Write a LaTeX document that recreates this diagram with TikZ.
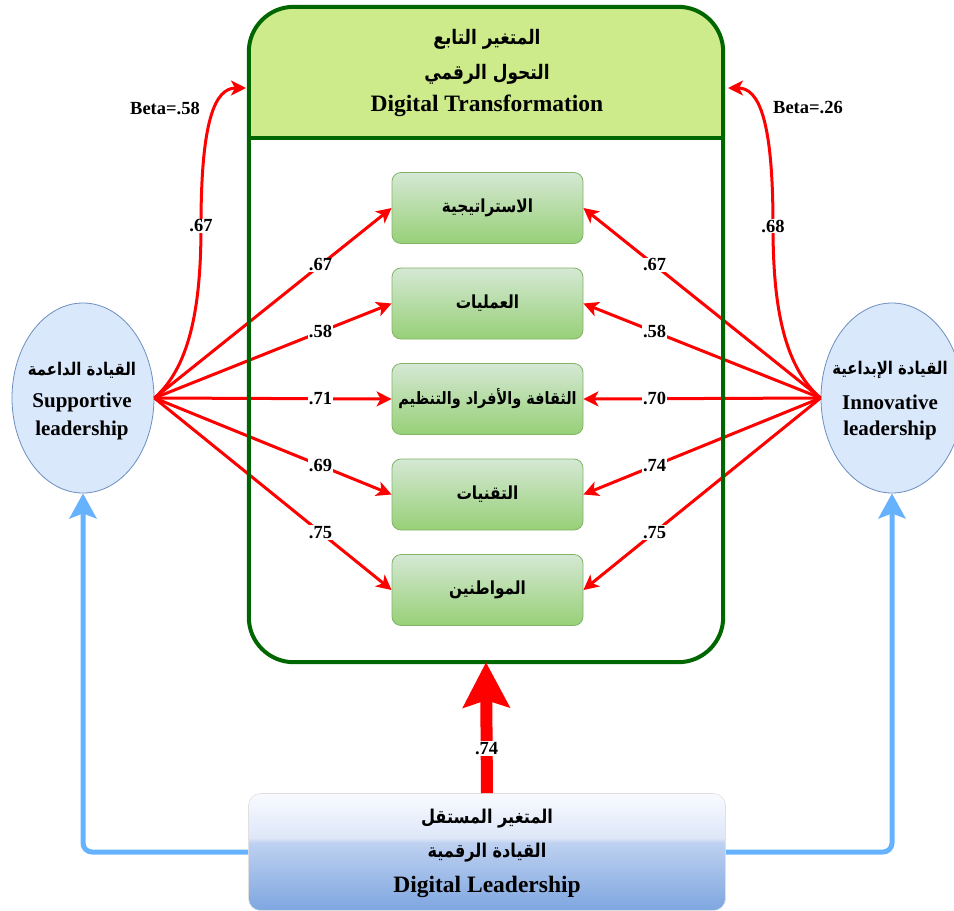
\documentclass[tikz,border=0pt]{standalone}
\usepackage{fontspec}
\setmainfont{Liberation Serif}
\newfontfamily\arabicfont[Script=Arabic,FakeStretch=0.85]{DejaVu Sans}
\TeXXeTstate=1
\usetikzlibrary{arrows.meta,shapes.geometric}
\definecolor{dkgreen}{RGB}{0,102,0}
\definecolor{hdr}{RGB}{205,235,139}
\definecolor{gtop}{RGB}{213,232,212}
\definecolor{gbot}{RGB}{151,208,119}
\definecolor{gbord}{RGB}{130,179,102}
\definecolor{efill}{RGB}{218,232,252}
\definecolor{ebord}{RGB}{108,142,191}
\definecolor{blu}{RGB}{102,178,255}
\definecolor{btop}{RGB}{248,250,255}
\definecolor{bmida}{RGB}{222,231,248}
\definecolor{bmidb}{RGB}{190,209,240}
\definecolor{bbot}{RGB}{126,166,224}
\pgfdeclareverticalshading{glossyblue}{100bp}{color(0bp)=(bbot); color(25bp)=(bbot); color(54bp)=(bmidb); color(56bp)=(bmida); color(75bp)=(btop); color(100bp)=(btop)}
\newcommand{\AR}[1]{{\arabicfont\bfseries\beginR #1\endR}}
\begin{document}
\begin{tikzpicture}[x=1pt,y=-1pt,
  redarr/.style={draw=red, line width=3pt, -{Stealth[length=15pt,width=15pt,inset=4pt]}},
  lbl/.style={fill=white, inner sep=1pt, font=\bfseries\fontsize{18.5}{20}\selectfont},
  ibox/.style={draw=gbord, line width=0.8pt, rounded corners=9pt, top color=gtop, bottom color=gbot, minimum width=191pt, minimum height=71pt, inner sep=0pt, font=\fontsize{18}{21}\selectfont},
  ell/.style={ellipse, draw=ebord, line width=0.8pt, fill=efill, minimum width=142pt, minimum height=190pt, inner sep=0pt},
  arhd/.style={font=\fontsize{20}{24}\selectfont},
  arbt/.style={font=\fontsize{19}{23}\selectfont},
  enbig/.style={font=\bfseries\fontsize{23.5}{26}\selectfont},
  arsm/.style={font=\fontsize{17.5}{21}\selectfont},
  ensm/.style={font=\bfseries\fontsize{21}{24}\selectfont},
  bluarr/.style={draw=blu, line width=5pt, rounded corners=9pt, -{Stealth[length=25pt,width=27pt,inset=5pt]}}
]
\useasboundingbox (0,0) rectangle (954,911);

% container background
\node[fill=white, rounded corners=45pt, minimum width=474pt, minimum height=655pt, inner sep=0pt] (C) at (486,334.5) {};
\begin{scope}
  \clip[rounded corners=45pt] (C.south west) rectangle (C.north east);
  \fill[hdr] (C.north west) rectangle (C.east |- 0,137.5);
\end{scope}

% ellipses
\node[ell] (L) at (83,398) {};
\node[ell] (R) at (892,398) {};

% inner boxes
\node[ibox] (s1) at (487.5,208) {\AR{الاستراتيجية}};
\node[ibox] (s2) at (487.5,303.5) {\AR{العمليات}};
\node[ibox, font=\fontsize{17}{20}\selectfont] (s3) at (487.5,399) {\AR{الثقافة والأفراد والتنظيم}};
\node[ibox] (s4) at (487.5,494.5) {\AR{التقنيات}};
\node[ibox] (s5) at (487.5,590) {\AR{المواطنين}};

% bottom box
\node[shading=glossyblue, draw=black!12, line width=0.6pt, rounded corners=12pt, minimum width=477pt, minimum height=117pt, inner sep=0pt] (B) at (487,852) {};

% red arrows from left
\draw[redarr] (L.east) -- (s1.west) node[lbl, pos=0.7] {.67};
\draw[redarr] (L.east) -- (s2.west) node[lbl, pos=0.7] {.58};
\draw[redarr] (L.east) -- (s3.west) node[lbl, pos=0.7] {.71};
\draw[redarr] (L.east) -- (s4.west) node[lbl, pos=0.7] {.69};
\draw[redarr] (L.east) -- (s5.west) node[lbl, pos=0.7] {.75};
% red arrows from right
\draw[redarr] (R.west) -- (s1.east) node[lbl, pos=0.7] {.67};
\draw[redarr] (R.west) -- (s2.east) node[lbl, pos=0.7] {.58};
\draw[redarr] (R.west) -- (s3.east) node[lbl, pos=0.7] {.70};
\draw[redarr] (R.west) -- (s4.east) node[lbl, pos=0.7] {.74};
\draw[redarr] (R.west) -- (s5.east) node[lbl, pos=0.7] {.75};

% curved arrows to header
\coordinate (tl) at (246,88);
\coordinate (tr) at (728,88);
\draw[redarr] (L.east) .. controls (192,365) and (201,300) .. (201,226) node[lbl] {.67}
   .. controls (201,120) and (215,88) .. (tl);
\draw[redarr] (R.west) .. controls (782,365) and (773,300) .. (773,226) node[lbl] {.68}
   .. controls (773,120) and (759,88) .. (tr);

% container border and divider
\draw[dkgreen, line width=4pt, rounded corners=45pt] (C.south west) rectangle (C.north east);
\draw[dkgreen, line width=4pt] (C.west |- 0,137.5) -- (C.east |- 0,137.5);

% header texts
\node[arhd] (h1) at (487,39) {\AR{المتغير التابع}};
\node[arhd] (h2) at (487,74) {\AR{التحول الرقمي}};
\node[enbig] (h3) at (487,106) {Digital Transformation};

% beta labels
\node[lbl, fill=none] (b1) at (165,108) {Beta=.58};
\node[lbl, fill=none] (b2) at (808,108) {Beta=.26};

% ellipse texts
\node[arsm] (l1) at (82,370) {\AR{القيادة الداعمة}};
\node[ensm] (l2) at (82,402) {Supportive};
\node[ensm] (l3) at (82,430) {leadership};
\node[arsm] (r1) at (890,370) {\AR{القيادة الإبداعية}};
\node[ensm] (r2) at (890,402) {Innovative};
\node[ensm] (r3) at (890,430) {leadership};

% bottom texts
\node[arbt] (d1) at (487,819) {\AR{المتغير المستقل}};
\node[arbt] (d2) at (487,853) {\AR{القيادة الرقمية}};
\node[enbig] (d3) at (487,887) {Digital Leadership};

% big arrow
\draw[draw=red, line width=12pt, -{Stealth[length=45pt,width=46pt,inset=7pt]}] (B.north) -- (C.south) node[lbl, pos=0.34] {.74};

% blue arrows
\draw[bluarr] (B.west) -| (L.south);
\draw[bluarr] (B.east) -| (R.south);
\end{tikzpicture}
\end{document}
